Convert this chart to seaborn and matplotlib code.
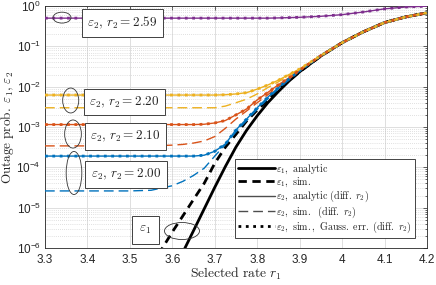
import numpy as np
import pandas as pd
import matplotlib
matplotlib.use('Agg')
import matplotlib.pyplot as plt
import seaborn as sns
from matplotlib.lines import Line2D
from matplotlib.patches import Ellipse
from matplotlib.font_manager import FontProperties
from matplotlib.ticker import FixedLocator, FuncFormatter, NullFormatter

# selected rate r1 (shared grid for the eps2 curves)
rate = [3.3, 3.4, 3.5, 3.55, 3.6, 3.625, 3.65, 3.675, 3.7, 3.725, 3.75, 3.775,
        3.8, 3.825, 3.85, 3.875, 3.9, 3.95, 4.0, 4.05, 4.1, 4.15, 4.2]

# eps1 curves
rate_e1_analytic = rate[4:]
eps1_analytic = [2.2e-7, 7.9e-7, 2.7e-6, 9.3e-6, 3.2e-5, 1.05e-4, 3.2e-4, 8.3e-4,
                 1.9e-3, 4.0e-3, 7.6e-3, 1.38e-2, 2.34e-2, 5.75e-2, 0.123, 0.229,
                 0.389, 0.537, 0.676]
rate_e1_sim = rate[3:]
eps1_sim = [3.5e-7, 2.5e-6, 6.3e-6, 1.6e-5, 4.0e-5, 1.26e-4, 3.16e-4, 6.6e-4,
            1.41e-3, 2.63e-3, 4.7e-3, 8.3e-3, 1.41e-2, 2.34e-2, 5.75e-2, 0.123,
            0.229, 0.389, 0.537, 0.676]

# eps2 curves, one per r2
r2_values = ['2.00', '2.10', '2.20', '2.59']
eps2_analytic = {
    '2.00': [1.9e-4, 1.9e-4, 1.9e-4, 1.9e-4, 1.9e-4, 1.9e-4, 1.9e-4, 2.0e-4, 2.5e-4,
             3.8e-4, 8.5e-4, 1.58e-3, 3.0e-3, 5.5e-3, 9.5e-3, 1.55e-2, 2.5e-2,
             5.9e-2, 0.123, 0.229, 0.389, 0.537, 0.676],
    '2.10': [1.15e-3, 1.15e-3, 1.15e-3, 1.15e-3, 1.15e-3, 1.15e-3, 1.15e-3, 1.17e-3,
             1.26e-3, 1.45e-3, 2.0e-3, 2.8e-3, 4.7e-3, 7.2e-3, 1.12e-2, 1.66e-2,
             2.57e-2, 5.9e-2, 0.123, 0.229, 0.389, 0.537, 0.676],
    '2.20': [6.2e-3, 6.2e-3, 6.2e-3, 6.2e-3, 6.2e-3, 6.2e-3, 6.2e-3, 6.2e-3, 6.2e-3,
             6.3e-3, 6.6e-3, 7.1e-3, 8.7e-3, 1.1e-2, 1.45e-2, 2.0e-2, 2.75e-2,
             5.9e-2, 0.123, 0.229, 0.389, 0.537, 0.676],
    '2.59': [0.5, 0.5, 0.5, 0.5, 0.5, 0.5, 0.5, 0.5, 0.5, 0.5, 0.5, 0.5, 0.5, 0.5,
             0.507, 0.515, 0.525, 0.556, 0.61, 0.71, 0.85, 0.944, 0.99],
}
eps2_sim = {
    '2.00': [2.6e-5, 2.6e-5, 2.6e-5, 2.7e-5, 3.5e-5, 4.5e-5, 6.3e-5, 9.5e-5, 1.9e-4,
             3.7e-4, 7.6e-4, 1.45e-3, 2.75e-3, 5.0e-3, 8.9e-3, 1.48e-2, 2.45e-2,
             5.9e-2, 0.123, 0.229, 0.389, 0.537, 0.676],
    '2.10': [3.4e-4, 3.4e-4, 3.4e-4, 3.4e-4, 3.55e-4, 3.7e-4, 4.0e-4, 4.5e-4, 5.8e-4,
             9.3e-4, 1.58e-3, 2.5e-3, 4.0e-3, 6.3e-3, 1.05e-2, 1.58e-2, 2.5e-2,
             5.9e-2, 0.123, 0.229, 0.389, 0.537, 0.676],
    '2.20': [3.0e-3, 3.0e-3, 3.0e-3, 3.0e-3, 3.0e-3, 3.0e-3, 3.0e-3, 3.0e-3, 3.0e-3,
             3.3e-3, 4.0e-3, 4.9e-3, 6.6e-3, 9.5e-3, 1.32e-2, 1.9e-2, 2.7e-2,
             5.9e-2, 0.123, 0.229, 0.389, 0.537, 0.676],
}
# Gaussian-error simulation sits on top of the analytic curves
eps2_gauss = {k: list(v) for k, v in eps2_analytic.items()}

colors = {'2.00': '#0072BD', '2.10': '#D95319', '2.20': '#EDB120', '2.59': '#7E2F8E'}

x_ticks = [3.3, 3.4, 3.5, 3.6, 3.7, 3.8, 3.9, 4.0, 4.1, 4.2]
x_ticklabels = ['3.3', '3.4', '3.5', '3.6', '3.7', '3.8', '3.9', '4', '4.1', '4.2']
y_decades = [-6, -5, -4, -3, -2, -1, 0]

sns.set_style('white')
plt.rcParams['mathtext.fontset'] = 'custom'
plt.rcParams['mathtext.rm'] = 'Liberation Sans'
plt.rcParams['mathtext.it'] = 'Liberation Sans:italic'
plt.rcParams['font.family'] = ['Liberation Sans', 'DejaVu Sans']

fig = plt.figure(figsize=(4.36, 2.85), dpi=100)
ax = fig.add_axes([45 / 436, 37 / 285, 382 / 436, 242 / 285])

# eps2 lines
for r2 in r2_values:
    c = colors[r2]
    sns.lineplot(x=rate, y=eps2_analytic[r2], ax=ax, color=c, linewidth=1.0,
                 sort=False, legend=False, zorder=3)
    if r2 in eps2_sim:
        sns.lineplot(x=rate, y=eps2_sim[r2], ax=ax, color=c, linewidth=1.0,
                     linestyle=(0, (7, 3.6)), sort=False, legend=False, zorder=3)
    sns.lineplot(x=rate, y=eps2_gauss[r2], ax=ax, color=c, linewidth=2.0,
                 linestyle=':', sort=False, legend=False, zorder=4)

# eps1 lines
sns.lineplot(x=rate_e1_analytic, y=eps1_analytic, ax=ax, color='black', linewidth=2.0,
             sort=False, legend=False, zorder=2)
sns.lineplot(x=rate_e1_sim, y=eps1_sim, ax=ax, color='black', linewidth=2.0,
             linestyle=(0, (3, 2)), sort=False, legend=False, zorder=2)

ax.set_yscale('log')
ax.set_xlim(3.3, 4.2)
ax.set_ylim(1e-6, 1)
ax.xaxis.set_major_locator(FixedLocator(x_ticks))
ax.set_xticklabels(x_ticklabels)
y_major = [10.0 ** d for d in y_decades]
y_minor = [m * 10.0 ** d for d in y_decades[:-1] for m in range(2, 10)]
ax.yaxis.set_major_locator(FixedLocator(y_major))
ax.yaxis.set_minor_locator(FixedLocator(y_minor))
ax.yaxis.set_minor_formatter(NullFormatter())
ax.yaxis.set_major_formatter(FuncFormatter(lambda v, p: r'$10^{%d}$' % int(round(np.log10(v)))))

ax.grid(True, which='major', color='#dedede', linewidth=0.7, linestyle='-')
ax.grid(True, which='minor', axis='y', color='#c4c4c4', linewidth=0.5, linestyle=(0, (1, 2)))
ax.set_axisbelow(True)
ax.tick_params(which='both', direction='in', top=True, right=True, labelsize=8.5,
               colors='#262626')
ax.tick_params(axis='x', pad=4)
ax.tick_params(axis='y', pad=3)
ax.tick_params(which='major', length=3, width=0.5)
ax.tick_params(which='minor', length=1.6, width=0.5)
for s in ax.spines.values():
    s.set_color('#262626')
    s.set_linewidth(0.6)

ax.set_xlabel(r'$\mathrm{Selected\ rate}\ r_1$', math_fontfamily='cm', fontsize=9.8, labelpad=0)
ax.set_ylabel(r'$\mathrm{Outage\ prob.}\ \varepsilon_1\mathrm{,}\ \varepsilon_2$',
              math_fontfamily='cm', fontsize=9.5, labelpad=0)

# annotation boxes
box_kw = dict(boxstyle='square,pad=0.42', fc='white', ec='#404040', lw=0.7)
labels_pos = {'2.59': (0.203, 0.930), '2.20': (0.208, 0.603), '2.10': (0.211, 0.461),
              '2.00': (0.212, 0.304)}
for r2, (bx, by) in labels_pos.items():
    ax.text(bx, by, r'$\varepsilon_2\mathrm{,}\ r_2 = %s$' % r2, transform=ax.transAxes,
            ha='center', va='center', math_fontfamily='cm',
            fontsize=9.5, bbox=box_kw, zorder=6)
ax.text(0.263, 0.074, r'$\varepsilon_1$', transform=ax.transAxes, ha='center', va='center',
        math_fontfamily='cm', fontsize=9.5,
        bbox=dict(boxstyle='square,pad=0.6', fc='white', ec='#404040', lw=0.7), zorder=6)

ellipses = [((0.0445, 0.952), 0.047, 0.045), ((0.0673, 0.6095), 0.042, 0.103),
            ((0.0733, 0.471), 0.0437, 0.116), ((0.0759, 0.310), 0.041, 0.178),
            ((0.3586, 0.0702), 0.0916, 0.0702)]
for (cx, cy), w, h in ellipses:
    ax.add_patch(Ellipse((cx, cy), w, h, transform=ax.transAxes, fill=False,
                         ec='#333333', lw=0.6, zorder=6))

handles = [
    Line2D([], [], color='black', lw=2.0),
    Line2D([], [], color='black', lw=2.0, linestyle=(0, (3, 2))),
    Line2D([], [], color='#4d4d4d', lw=1.0),
    Line2D([], [], color='#4d4d4d', lw=1.0, linestyle=(0, (7, 3.6))),
    Line2D([], [], color='black', lw=2.0, linestyle=':'),
]
leg_labels = [r'$\varepsilon_1\mathrm{,\ analytic}$',
              r'$\varepsilon_1\mathrm{,\ sim.}$',
              r'$\varepsilon_2\mathrm{,\ analytic\ (diff.}\ r_2\mathrm{)}$',
              r'$\varepsilon_2\mathrm{,\ sim.\ \ (diff.}\ r_2\mathrm{)}$',
              r'$\varepsilon_2\mathrm{,\ sim.,\ Gauss.\ err.\ (diff.}\ r_2\mathrm{)}$']
leg = ax.legend(handles, leg_labels, loc='lower right', bbox_to_anchor=(0.969, 0.041),
                prop=FontProperties(size=7.2, math_fontfamily='cm'),
                frameon=True, fancybox=False, framealpha=1, edgecolor='#262626',
                handlelength=3.7, handletextpad=0.15, labelspacing=0.0, borderpad=0.3,
                borderaxespad=0)
leg.get_frame().set_linewidth(0.6)
leg.set_zorder(7)

fig.savefig('out.png', dpi=100)
